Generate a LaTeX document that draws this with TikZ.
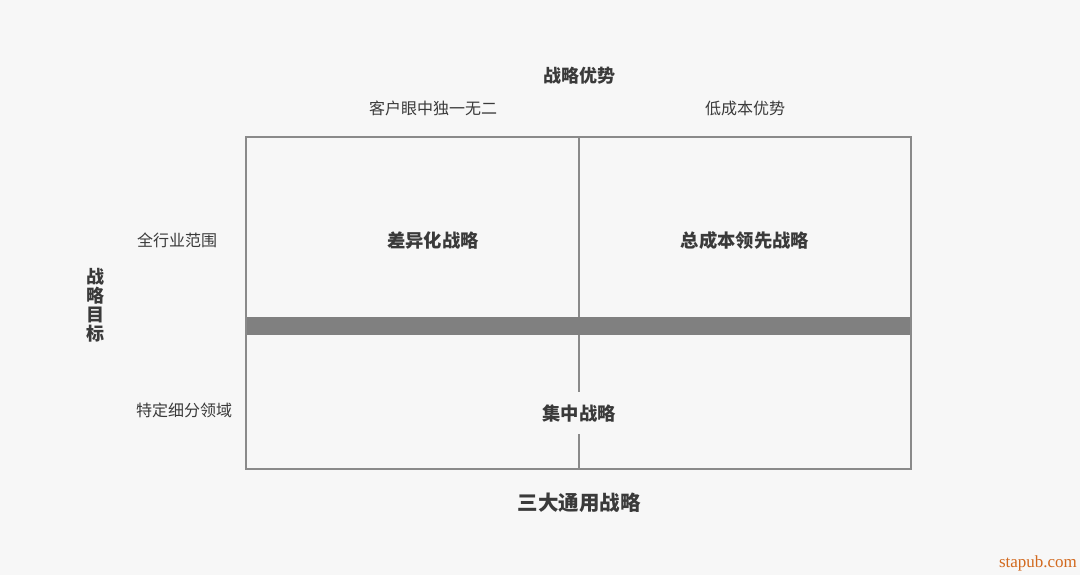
\documentclass[tikz,border=0pt]{standalone}
\usepackage{fontspec}
\setmainfont{Noto Sans CJK SC}
\newfontfamily\markfont{Liberation Serif}
\usepackage{tikz}
\usetikzlibrary{positioning,calc}
\definecolor{bg}{HTML}{F7F7F7}
\definecolor{ink}{HTML}{3A3A3A}
\definecolor{rule}{HTML}{8A8A8A}
\definecolor{band}{HTML}{808080}
\definecolor{mark}{HTML}{D2691E}
\tikzset{
  head/.style={text=ink,font=\fontsize{18}{20}\selectfont\bfseries,inner sep=0pt},
  title/.style={text=ink,font=\fontsize{20.5}{22}\selectfont\bfseries,inner sep=0pt},
  tag/.style={text=ink,font=\fontsize{16}{18}\selectfont,inner sep=0pt},
  cell/.style={text=ink,font=\fontsize{18.3}{20}\selectfont\bfseries,inner sep=0pt}
}
\begin{document}
\begin{tikzpicture}[x=1pt,y=-1pt,line width=1.6pt]
    \fill[bg] (0,0) rectangle (1080,575);
    \useasboundingbox (0,0) rectangle (1080,575);
    % grid
    \coordinate (tl) at (246,137);
    \coordinate (br) at (911,469);
    \coordinate (mt) at (579,137);
    \coordinate (mb) at (579,469);
    \draw[rule] (mt) -- (mb);
    \fill[band] (246,317) rectangle (911,335);
    \draw[rule] (tl) rectangle (br);
    % labels
    \node[head] (adv) at (579,76) {战略优势};
    \node[tag] (uniq) at (433,108) {客户眼中独一无二};
    \node[tag] (cost) at (745,108) {低成本优势};
    \node[tag] (wide) at (177,240) {全行业范围};
    \node[tag] (niche) at (184,410) {特定细分领域};
    \node[head,align=center,font=\fontsize{18}{19}\selectfont\bfseries] (goal) at (95,305) {战\\略\\目\\标};
    \node[cell] (diff) at (433,241) {差异化战略};
    \node[cell] (lead) at (745,241) {总成本领先战略};
    \node[cell,fill=bg,inner xsep=2pt,inner ysep=12pt] (focus) at (579,413) {集中战略};
    \node[title] (main) at (579,503) {三大通用战略};
    \node[text=mark,font=\markfont\fontsize{17}{19}\selectfont,inner sep=0pt] (site) at (1038,563) {stapub.com};
\end{tikzpicture}
\end{document}
